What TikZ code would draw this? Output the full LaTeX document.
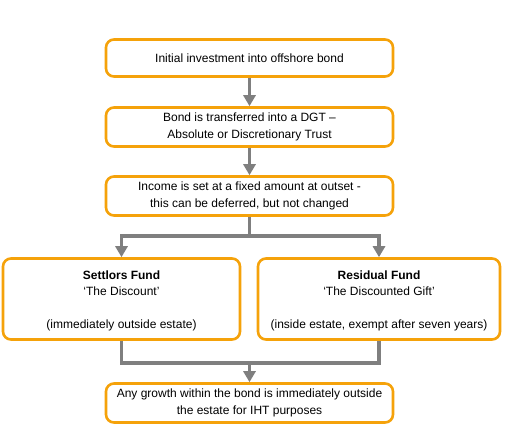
\documentclass[tikz,border=0pt]{standalone}
\usepackage{fontspec}
\setmainfont{Liberation Sans}
\usetikzlibrary{arrows.meta}
\begin{document}
\begin{tikzpicture}[x=1pt,y=-1pt,
  txt/.style={font=\fontsize{12}{16.5}\selectfont},
  box/.style={draw=orange1,line width=2.6pt,rounded corners=8pt,fill=white,inner sep=0pt,align=center,txt},
  conn/.style={draw=gray1,line width=3.6pt},
  arr/.style={conn,-{Triangle[width=12pt,length=11pt]}}]
\definecolor{orange1}{HTML}{F5A20A}
\definecolor{gray1}{HTML}{7F7F7F}
\useasboundingbox (0,0) rectangle (522,445);
\node[box,minimum width=287pt,minimum height=37pt] (b1) at (249.5,58) {Initial investment into offshore bond};
\node[box,minimum width=287pt,minimum height=39pt] (b2) at (249.5,127) {Bond is transferred into a DGT --\\Absolute or Discretionary Trust};
\node[box,minimum width=287pt,minimum height=39pt] (b3) at (249.5,196) {Income is set at a fixed amount at outset -\\this can be deferred, but not changed};
\node[box,minimum width=237pt,minimum height=81pt] (l) at (121.5,299) {};
\node[txt,font=\fontsize{12}{16.5}\selectfont\bfseries] (lt) at (121.5,275) {Settlors Fund};
\node[txt] (ls) at (121.5,291.5) {‘The Discount’};
\node[txt] (lb) at (121.5,325) {(immediately outside estate)};
\node[box,minimum width=242pt,minimum height=81pt] (r) at (379,299) {};
\node[txt,font=\fontsize{12}{16.5}\selectfont\bfseries] (rt) at (379,275) {Residual Fund};
\node[txt] (rs) at (379,291.5) {‘The Discounted Gift’};
\node[txt] (rb) at (379,325) {(inside estate, exempt after seven years)};
\node[box,minimum width=287pt,minimum height=39pt] (b4) at (249.5,403) {Any growth within the bond is immediately outside\\the estate for IHT purposes};
\coordinate (s) at (249.5,236);
\coordinate (m) at (249.5,363);
\draw[arr] (b1) -- (b2);
\draw[arr] (b2) -- (b3);
\draw[conn] (b3.south) -- (s);
\draw[arr] (s) -| (l.north);
\draw[arr] (s) -| (r.north);
\draw[conn] (l.south) |- (m);
\draw[conn] (r.south) |- (m);
\draw[arr] (m) -- (b4.north);
\end{tikzpicture}
\end{document}
